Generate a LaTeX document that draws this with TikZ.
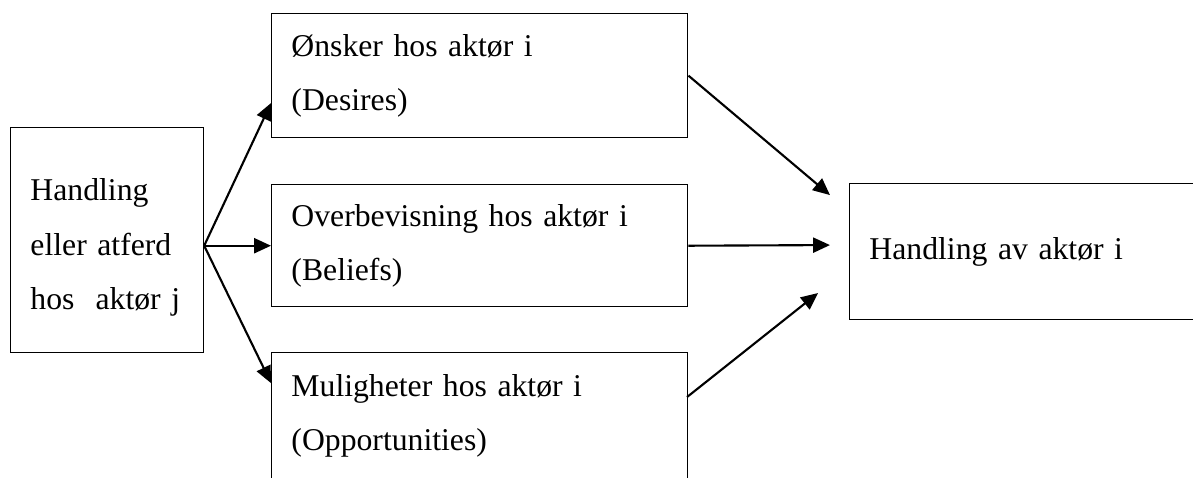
\documentclass[tikz,border=0pt]{standalone}
\usepackage{fontspec}
\setmainfont{Liberation Serif}
\usetikzlibrary{arrows.meta}

\begin{document}
\begin{tikzpicture}[box/.style={draw, rectangle, line width=0.5pt, anchor=north west, align=left, inner xsep=7.5pt, font=\fontsize{12}{20.6}\selectfont}, n/.style={-{Triangle[length=6.4pt, width=5.7pt]}, line width=0.8pt}]
            \useasboundingbox (0,0) rectangle (15.87,6.346);
            % nodes
            \node[box, minimum width=73pt, minimum height=85.2pt, text width=58pt] (actj) at (0.133,4.656) {\rule{0pt}{14pt}Handling\\eller atferd\\hos\ \ aktør j};

            \node[box, minimum width=157.5pt, minimum height=46.9pt, text width=142.5pt] (desires) at (3.605,6.173) {Ønsker hos aktør i\\(Desires)};
            \node[box, minimum width=157.5pt, minimum height=46.2pt, text width=142.5pt] (beliefs) at (3.605,3.898) {Overbevisning hos aktør i\\(Beliefs)};
            \node[box, minimum width=157.5pt, minimum height=47.7pt, text width=142.5pt] (opps) at (3.605,1.663) {Muligheter hos aktør i\\(Opportunities)};

            \node[box, minimum width=140.4pt, minimum height=51.5pt, text width=125.4pt] (acti) at (11.294,3.911) {Handling av aktør i};

            \coordinate (arr0) at (actj.east |- beliefs.west);
            \coordinate (arr11) at (3.605,4.975);
            \coordinate (arr31) at (3.605,1.250);

            \coordinate (arr12) at (11.041,3.751);
            \coordinate (arr22) at (11.041,3.086);
            \coordinate (arr32) at (9.139,1.064);
            \coordinate (arr33) at (10.882,2.448);
            % edges
            \draw [n] (arr0) -- (arr11);
            \draw [n] (arr0) -- (beliefs.west);
            \draw [n] (arr0) -- (arr31);

            \draw [n] (desires.east) -- (arr12);
            \draw [n] (beliefs.east) -- (arr22);
            \draw [n] (arr32) -- (arr33);
        \end{tikzpicture}
\end{document}
